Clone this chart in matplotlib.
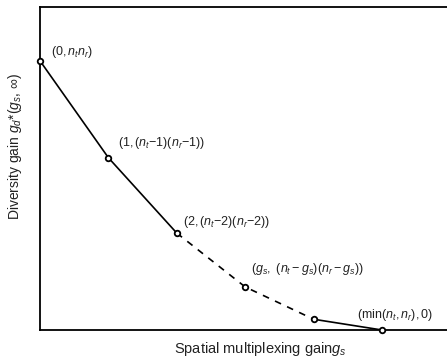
import matplotlib
matplotlib.use("Agg")
import matplotlib.pyplot as plt

plt.rcParams['font.family'] = ['Liberation Sans', 'DejaVu Sans']
plt.rcParams['mathtext.fontset'] = 'custom'
plt.rcParams['mathtext.rm'] = 'Liberation Sans'
plt.rcParams['mathtext.it'] = 'Liberation Sans:italic'

# tradeoff curve for nt = nr = 5
gs = [0, 1, 2, 3, 4, 5]
gd = [25, 16, 9, 4, 1, 0]
labels = [r'$(0,n_t n_r)$',
          r'$(1,(n_t{-}1)(n_r{-}1))$',
          r'$(2,(n_t{-}2)(n_r{-}2))$',
          r'$(g_s,\ (n_t - g_s)(n_r - g_s))$',
          None,
          r'$(\mathrm{min}(n_t,n_r),0)$']
label_offsets = [(11, 9), (10, 15), (6, 11), (6, 18), None, (-25, 15)]

fig = plt.figure(figsize=(4.47, 3.57), dpi=100)
ax = fig.add_axes([40 / 447, 27 / 357, 1 - 40 / 447, 323 / 357])

ax.plot(gs[:3], gd[:3], color='black', lw=1.2)
ax.plot(gs[2:5], gd[2:5], color='black', lw=1.2, ls=(0, (4, 4)))
ax.plot(gs[4:], gd[4:], color='black', lw=1.2)
ax.plot(gs, gd, ls='none', marker='o', ms=4, mfc='white', mec='black', mew=1.3,
        clip_on=False, zorder=5)

for x, y, lab, off in zip(gs, gd, labels, label_offsets):
    if lab is None:
        continue
    ax.annotate(lab, (x, y), xytext=off, textcoords='offset pixels',
                fontsize=9, color='#222222', ha='left', va='center')

ax.set_xlim(0, 407 / 68.4)
ax.set_ylim(0, 30)
ax.set_xticks([])
ax.set_yticks([])
ax.spines['right'].set_visible(False)
for s in ['left', 'top', 'bottom']:
    ax.spines[s].set_linewidth(1.3)

fig.text(260 / 447, 1 - 349 / 357, r'Spatial multiplexing gain$g_s$',
         ha='center', va='center', fontsize=10.5, color='#222222')
fig.text(15 / 447, 1 - 146 / 357, r'Diversity gain $g_d$*($g_s$, $\infty$)',
         ha='center', va='center', rotation=90, fontsize=10, color='#222222')

fig.savefig('out.png', dpi=100)
